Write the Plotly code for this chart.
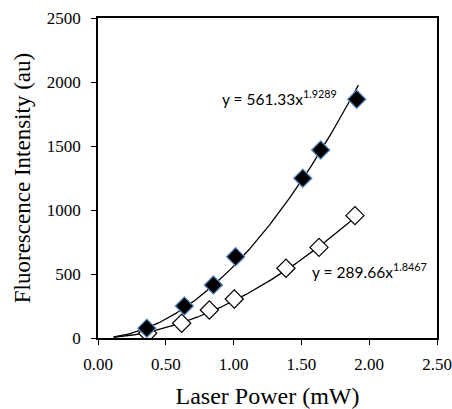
import numpy as np
import plotly.graph_objects as go

# Data
power_filled = [0.36, 0.637, 0.851, 1.015, 1.51, 1.642, 1.908]
intens_filled = [76, 250, 414, 635, 1248, 1469, 1865]
power_open = [0.366, 0.617, 0.821, 1.005, 1.386, 1.63, 1.895]
intens_open = [37, 115, 219, 305, 545, 708, 956]

# Power-law fits as shown in the chart labels
fit_filled = (561.33, 1.9289)
fit_open = (289.66, 1.8467)
fit_range_filled = (0.115, 1.92)
fit_range_open = (0.115, 1.905)

x_ticks = [0.0, 0.5, 1.0, 1.5, 2.0, 2.5]
y_ticks = [0, 500, 1000, 1500, 2000, 2500]

fig = go.Figure()

for (a, b), (lo, hi) in [(fit_filled, fit_range_filled), (fit_open, fit_range_open)]:
    xs = np.linspace(lo, hi, 200)
    fig.add_trace(go.Scatter(x=xs, y=a * xs ** b, mode="lines",
                             line=dict(color="black", width=1.3), hoverinfo="skip",
                             showlegend=False))

fig.add_trace(go.Scatter(x=power_open, y=intens_open, mode="markers",
                         marker=dict(symbol="diamond", size=14, color="white",
                                     line=dict(color="black", width=1.2)),
                         showlegend=False))
fig.add_trace(go.Scatter(x=power_filled, y=intens_filled, mode="markers",
                         marker=dict(symbol="diamond", size=14, color="black",
                                     line=dict(color="#5b8bc9", width=1.2)),
                         showlegend=False))

fig.add_annotation(x=1.335, y=1880, xref="x", yref="y",
                   text="y = 561.33x<sup>1.9289</sup>", showarrow=False,
                   font=dict(family="Lato", size=15.5, color="black"))
fig.add_annotation(x=2.0, y=530, xref="x", yref="y",
                   text="y = 289.66x<sup>1.8467</sup>", showarrow=False,
                   font=dict(family="Lato", size=15.5, color="black"))

serif = "Liberation Serif, Times New Roman, Times, serif"
fig.update_layout(
    width=452, height=409,
    margin=dict(l=98, r=15, t=18, b=71),
    paper_bgcolor="white", plot_bgcolor="white",
    font=dict(family=serif, color="black"),
    xaxis=dict(range=[0, 2.5], tickvals=x_ticks, tickformat=".2f", automargin=False,
               showgrid=False, zeroline=False, showline=True, linecolor="black",
               linewidth=1.5, mirror=True, ticks="outside", ticklen=5,
               ticklabelstandoff=5,
               tickcolor="black", tickfont=dict(family=serif, size=17),
               title=dict(text="Laser Power (mW)", font=dict(family=serif, size=24),
                          standoff=16)),
    yaxis=dict(range=[0, 2500], tickvals=y_ticks, automargin=False,
               showgrid=False, zeroline=False, showline=True, linecolor="black",
               linewidth=1.5, mirror=True, ticks="outside", ticklen=5,
               ticklabelstandoff=7,
               tickcolor="black", tickfont=dict(family=serif, size=17),
               title=dict(text="Fluorescence Intensity (au)",
                          font=dict(family=serif, size=23), standoff=10)),
)

# Remove the browser's default 8px body margin so the figure fills the window.
fig.write_html("out.html",
               config={"displayModeBar": False},
               post_script="document.body.style.margin='0';"
                           "document.documentElement.style.overflow='hidden';")
